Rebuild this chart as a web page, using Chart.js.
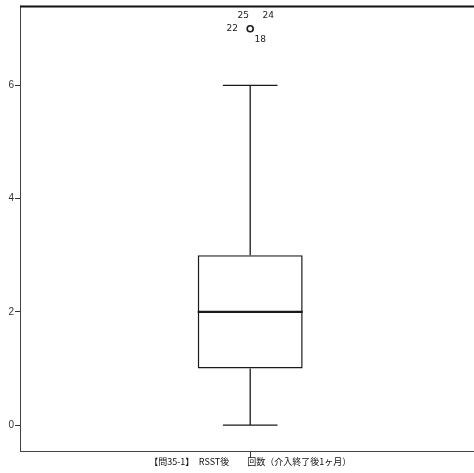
<!DOCTYPE html>
<html>
<head>
<meta charset="utf-8">
<script src="https://cdn.jsdelivr.net/npm/chart.js@4/dist/chart.umd.min.js"></script>
<style>
html,body{margin:0;padding:0;background:#fff;overflow:hidden;}
#wrap{width:486px;height:473px;}
</style>
</head>
<body>
<div id="wrap"><canvas id="c" width="486" height="473"></canvas></div>
<script>
// ---- data ----
const categories = ['【問35-1】　RSST後　　回数（介入終了後1ヶ月）'];
const whiskerLow = [0];
const q1 = [1];
const median = [2];
const q3 = [3];
const whiskerHigh = [6];
const outlierValues = [7];
const outlierLabels = ['25', '24', '22', '18'];
const yTicks = [0, 2, 4, 6];

const ink = '#1a1a1a';

const boxPlugin = {
  id: 'boxPlugin',
  afterDatasetsDraw(chart) {
    const ctx = chart.ctx;
    const xs = chart.scales.x, ys = chart.scales.y;
    const meta = chart.getDatasetMeta(0);
    ctx.save();
    categories.forEach((c, i) => {
      const bar = meta.data[i];
      const x = xs.getPixelForValue(i);
      const half = bar.width / 2;
      const capHalf = half * 0.52;
      ctx.strokeStyle = ink;
      ctx.lineWidth = 1.3;
      ctx.beginPath();
      ctx.moveTo(x, ys.getPixelForValue(whiskerLow[i]));
      ctx.lineTo(x, ys.getPixelForValue(q1[i]));
      ctx.moveTo(x, ys.getPixelForValue(q3[i]));
      ctx.lineTo(x, ys.getPixelForValue(whiskerHigh[i]));
      ctx.moveTo(x - capHalf, ys.getPixelForValue(whiskerLow[i]));
      ctx.lineTo(x + capHalf, ys.getPixelForValue(whiskerLow[i]));
      ctx.moveTo(x - capHalf, ys.getPixelForValue(whiskerHigh[i]));
      ctx.lineTo(x + capHalf, ys.getPixelForValue(whiskerHigh[i]));
      ctx.stroke();
      ctx.lineWidth = 2.2;
      ctx.beginPath();
      ctx.moveTo(x - half, ys.getPixelForValue(median[i]));
      ctx.lineTo(x + half, ys.getPixelForValue(median[i]));
      ctx.stroke();
      // outlier case labels
      const oy = ys.getPixelForValue(outlierValues[i]);
      const offs = [[-7, -13], [18, -13], [-18, 0], [10, 11]];
      ctx.fillStyle = ink;
      ctx.font = '9px "DejaVu Sans"';
      ctx.textAlign = 'center';
      ctx.textBaseline = 'middle';
      outlierLabels.forEach((t, k) => {
        ctx.fillText(t, x + offs[k][0], oy + offs[k][1]);
      });
    });
    // frame
    const a = chart.chartArea;
    ctx.strokeStyle = '#444';
    ctx.lineWidth = 1;
    ctx.beginPath();
    ctx.moveTo(a.left + 0.5, a.bottom);
    ctx.lineTo(a.left + 0.5, a.top);
    ctx.moveTo(a.left, a.bottom - 0.5);
    ctx.lineTo(a.right, a.bottom - 0.5);
    ctx.stroke();
    ctx.strokeStyle = '#111';
    ctx.lineWidth = 2;
    ctx.beginPath();
    ctx.moveTo(a.left, a.top + 1);
    ctx.lineTo(a.right, a.top + 1);
    ctx.stroke();
    ctx.restore();
  }
};

new Chart(document.getElementById('c'), {
  type: 'bar',
  data: {
    labels: categories,
    datasets: [
      {
        type: 'bar',
        data: categories.map((c, i) => [q1[i], q3[i]]),
        backgroundColor: 'rgba(255,255,255,0)',
        borderColor: ink,
        borderWidth: 1.4,
        borderSkipped: false,
        barPercentage: 0.228,
        categoryPercentage: 1
      },
      {
        type: 'line',
        data: outlierValues,
        showLine: false,
        pointStyle: 'circle',
        pointRadius: 3,
        pointBorderWidth: 1.6,
        pointBorderColor: ink,
        pointBackgroundColor: 'rgba(255,255,255,0)'
      }
    ]
  },
  options: {
    responsive: false,
    animation: false,
    layout: { padding: { top: 2, right: 2, left: 0, bottom: 0 } },
    plugins: { legend: { display: false }, tooltip: { enabled: false } },
    scales: {
      x: {
        offset: true,
        grid: { offset: false, drawOnChartArea: false, tickLength: 6, color: '#333', tickWidth: 1 },
        border: { display: false },
        ticks: { color: '#111', font: { family: '"Noto Sans CJK JP"', size: 9 }, padding: -2, maxRotation: 0 },
        afterFit(s) { s.height = 21; }
      },
      y: {
        min: -0.475,
        max: 7.408,
        afterBuildTicks(s) { s.ticks = yTicks.map(v => ({ value: v })); },
        grid: { drawOnChartArea: false, tickLength: 5, color: '#333', tickWidth: 1 },
        border: { display: false },
        ticks: { color: '#333', font: { family: '"Liberation Sans"', size: 10 }, padding: 1 },
        afterFit(s) { s.width = 20; s.paddingTop = 0; s.paddingBottom = 0; }
      }
    }
  },
  plugins: [boxPlugin]
});
</script>
</body>
</html>
